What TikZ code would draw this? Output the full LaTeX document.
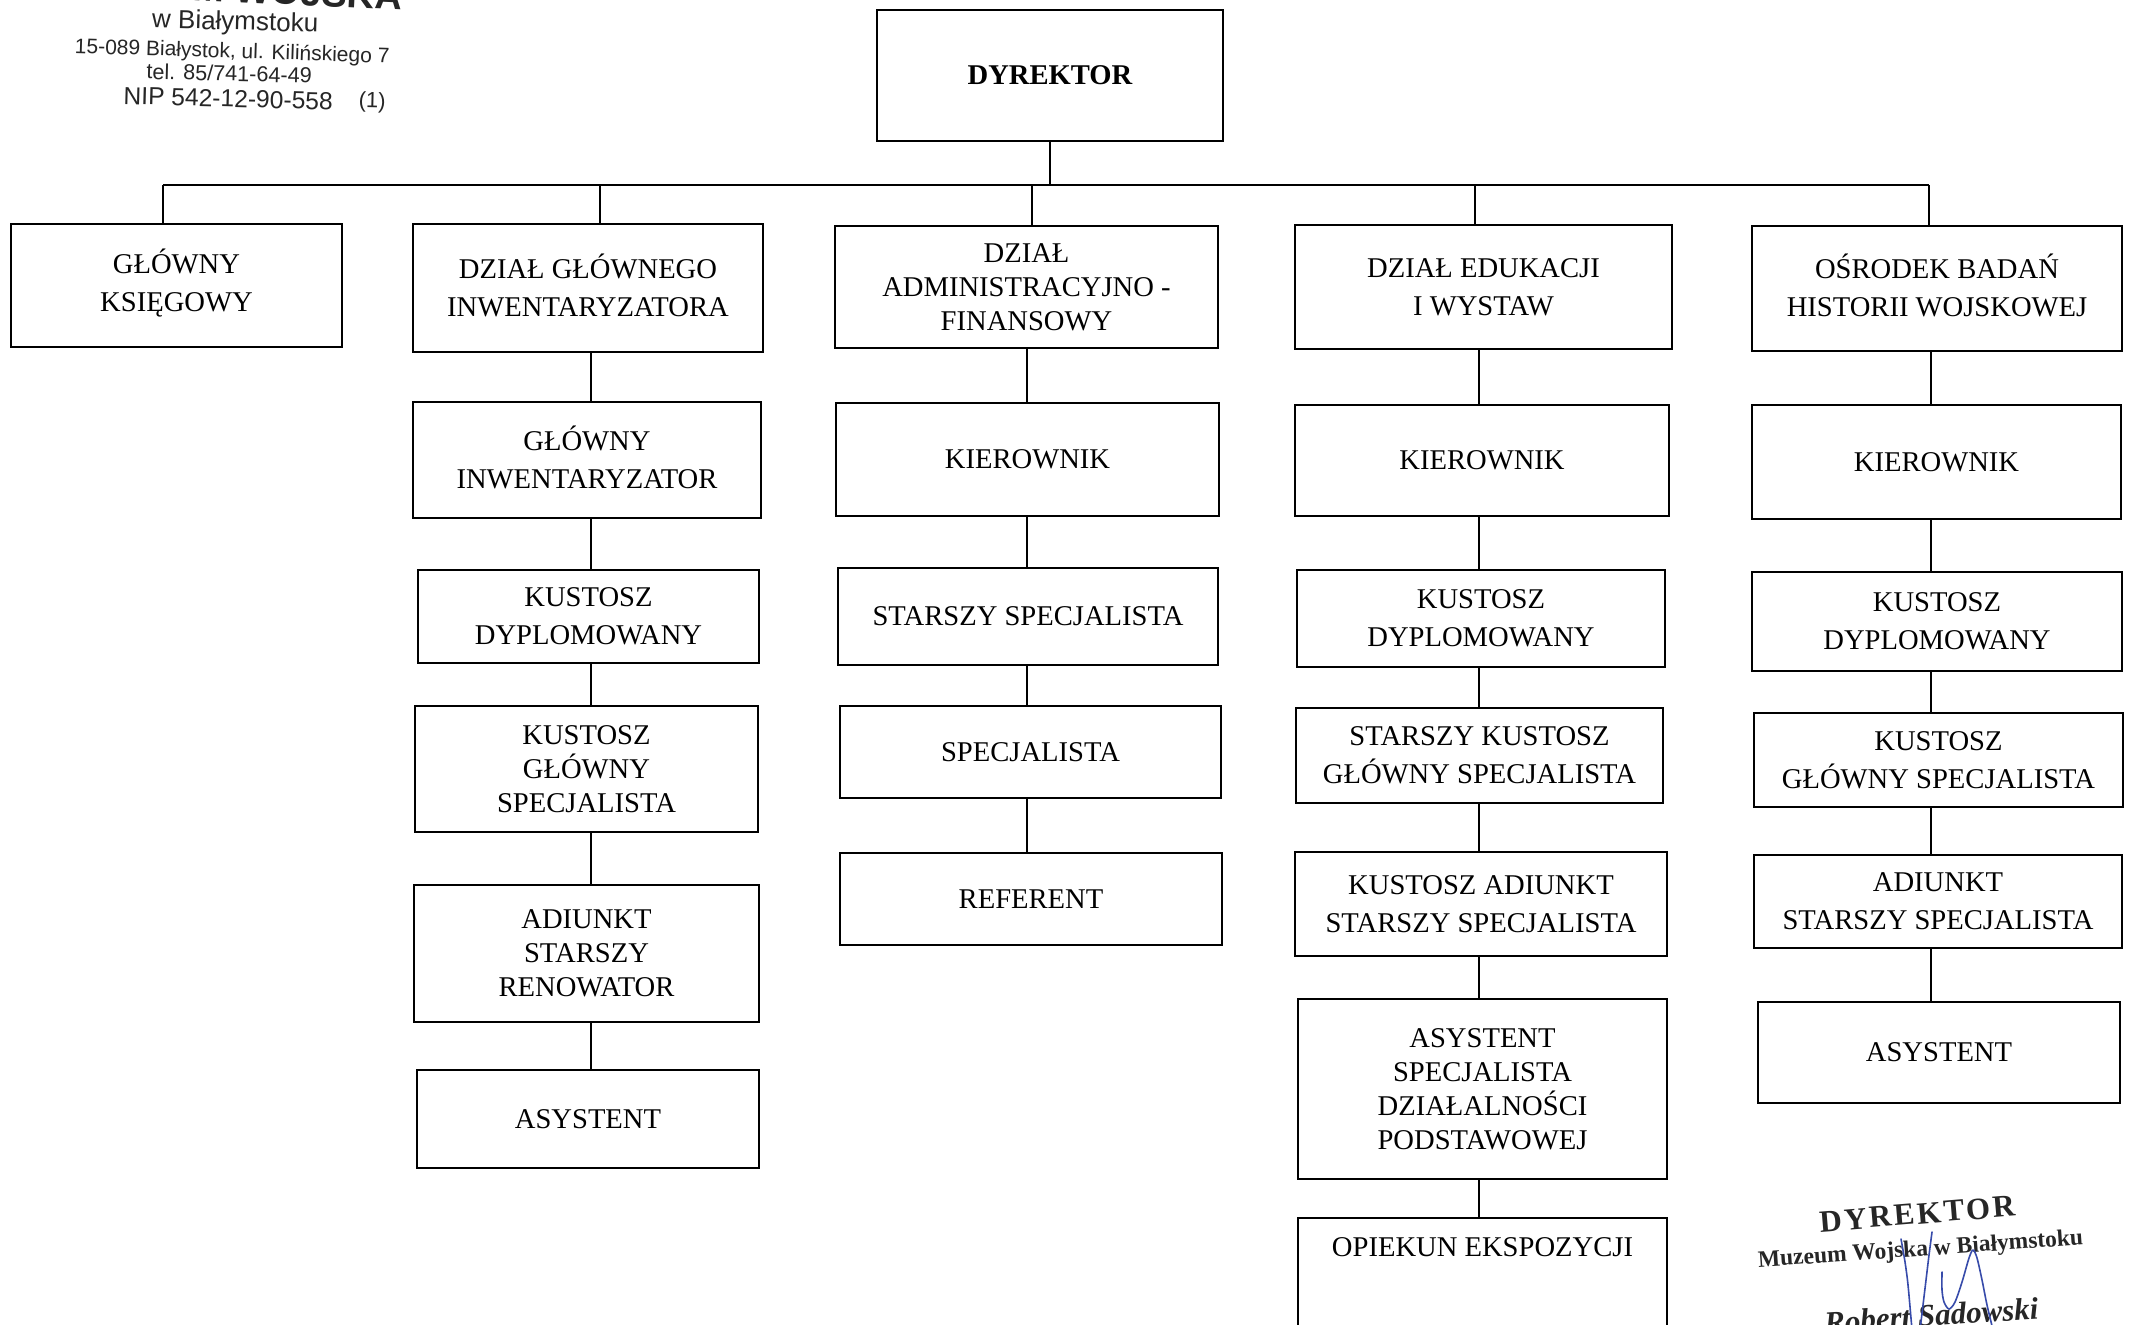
\documentclass[tikz,border=0pt]{standalone}
\usepackage{fontspec}
\setmainfont{Liberation Serif}
\newfontfamily\stampfont{Liberation Sans}
\newfontfamily\dirfont[LetterSpace=8]{Liberation Serif}
\definecolor{sigblue}{RGB}{55,75,170}
\tikzset{
  orgbox/.style={draw, line width=1.1pt, rectangle, inner sep=0pt, align=center,
    font=\fontsize{14.3}{19}\selectfont},
  tight/.style={font=\fontsize{14.3}{17}\selectfont},
  link/.style={line width=0.65pt},
  stamptext/.style={inner sep=0pt, anchor=base, text=black!85},
  sigline/.style={sigblue, line width=0.8pt, line cap=round, line join=round}
}
\newcommand\placebox[7][]{%
  \node[orgbox,#1, minimum width={(#5-#3)*0.5pt}, minimum height={(#6-#4)*0.5pt}]
    (#2) at ({(#3+#5)/2},{(#4+#6)/2}) {#7};}
\begin{document}
\begin{tikzpicture}[x=0.5pt, y=-0.5pt]
\fill[white] (0,0) rectangle (2129,1324);
\useasboundingbox (0,0) rectangle (2129,1324);
\clip (0,0) rectangle (2129,1324);

% ---- director
\placebox[font=\bfseries\fontsize{14.3}{19}\selectfont]{dyr}{877}{10}{1223}{141}{DYREKTOR}

% ---- departments
\placebox{c1}{11}{224}{342}{347}{GŁ\smash{Ó}WNY\\KSIĘGOWY}
\placebox{c2}{413}{224}{763}{352}{DZIAŁ GŁ\smash{Ó}WNEGO\\INWENTARYZATORA}
\placebox[tight]{c3}{835}{226}{1218}{348}{DZIAŁ\\ADMINISTRACYJNO -\\FINANSOWY}
\placebox{c4}{1295}{225}{1672}{349}{DZIAŁ EDUKACJI\\I WYSTAW}
\placebox{c5}{1752}{226}{2122}{351}{O\smash{Ś}RODEK BADA\smash{Ń}\\HISTORII WOJSKOWEJ}

% ---- column 2
\placebox{c2a}{413}{402}{761}{518}{GŁ\smash{Ó}WNY\\INWENTARYZATOR}
\placebox{c2b}{418}{570}{759}{663}{KUSTOSZ\\DYPLOMOWANY}
\placebox[tight]{c2c}{415}{706}{758}{832}{KUSTOSZ\\GŁÓWNY\\SPECJALISTA}
\placebox[tight]{c2d}{414}{885}{759}{1022}{ADIUNKT\\STARSZY\\RENOWATOR}
\placebox{c2e}{417}{1070}{759}{1168}{ASYSTENT}

% ---- column 3
\placebox{c3a}{836}{403}{1219}{516}{KIEROWNIK}
\placebox{c3b}{838}{568}{1218}{665}{STARSZY SPECJALISTA}
\placebox{c3c}{840}{706}{1221}{798}{SPECJALISTA}
\placebox{c3d}{840}{853}{1222}{945}{REFERENT}

% ---- column 4
\placebox{c4a}{1295}{405}{1669}{516}{KIEROWNIK}
\placebox{c4b}{1297}{570}{1665}{667}{KUSTOSZ\\DYPLOMOWANY}
\placebox{c4c}{1296}{708}{1663}{803}{STARSZY KUSTOSZ\\GŁÓWNY SPECJALISTA}
\placebox{c4d}{1295}{852}{1667}{956}{KUSTOSZ ADIUNKT\\STARSZY SPECJALISTA}
\placebox[tight]{c4e}{1298}{999}{1667}{1179}{ASYSTENT\\SPECJALISTA\\DZIAŁALNOŚCI\\PODSTAWOWEJ}
\node[orgbox, minimum width={(1667-1298)*0.5pt}, text height=19pt, text depth=70pt, anchor=north]
  (c4f) at (1482.5,1217) {OPIEKUN EKSPOZYCJI};

% ---- column 5
\placebox{c5a}{1752}{405}{2121}{519}{KIEROWNIK}
\placebox{c5b}{1752}{572}{2122}{671}{KUSTOSZ\\DYPLOMOWANY}
\placebox{c5c}{1754}{713}{2123}{807}{KUSTOSZ\\GŁÓWNY SPECJALISTA}
\placebox{c5d}{1754}{855}{2122}{948}{ADIUNKT\\STARSZY SPECJALISTA}
\placebox{c5e}{1758}{1002}{2120}{1103}{ASYSTENT}

% ---- bus and drops
\coordinate (busL) at (163,185);
\coordinate (busR) at (1929,185);
\coordinate (d1) at (163,185);
\coordinate (d2) at (600,185);
\coordinate (d3) at (1032,185);
\coordinate (d4) at (1475,185);
\coordinate (d5) at (1929,185);
\draw[link] (busL) -- (busR);
\draw[link] (dyr.south) -- (dyr.south |- busL);
\draw[link] (d1) -- (d1 |- c1.north);
\draw[link] (d2) -- (d2 |- c2.north);
\draw[link] (d3) -- (d3 |- c3.north);
\draw[link] (d4) -- (d4 |- c4.north);
\draw[link] (d5) -- (d5 |- c5.north);

% ---- column connectors
\coordinate (k2) at (591,0);
\coordinate (k3) at (1027,0);
\coordinate (k4) at (1479,0);
\coordinate (k5) at (1931,0);
\foreach \a/\b in {c2/c2a,c2a/c2b,c2b/c2c,c2c/c2d,c2d/c2e}
  \draw[link] (k2 |- \a.south) -- (k2 |- \b.north);
\foreach \a/\b in {c3/c3a,c3a/c3b,c3b/c3c,c3c/c3d}
  \draw[link] (k3 |- \a.south) -- (k3 |- \b.north);
\foreach \a/\b in {c4/c4a,c4a/c4b,c4b/c4c,c4c/c4d,c4d/c4e,c4e/c4f}
  \draw[link] (k4 |- \a.south) -- (k4 |- \b.north);
\foreach \a/\b in {c5/c5a,c5a/c5b,c5b/c5c,c5c/c5d,c5d/c5e}
  \draw[link] (k5 |- \a.south) -- (k5 |- \b.north);

% ---- stamp, top left
\node[stamptext, anchor=base east, rotate=-2.7, font=\stampfont\bfseries\fontsize{19}{19}\selectfont]
  (st0) at (402,10) {MUZEUM WOJSKA};
\node[stamptext, rotate=-1.5, font=\stampfont\fontsize{13}{14}\selectfont]
  (st1) at (235,30) {w Białymstoku};
\node[stamptext, rotate=-1.8, font=\stampfont\fontsize{10.5}{12}\selectfont]
  (st2) at (232,58) {15-089 Białystok, ul. Kilińskiego 7};
\node[stamptext, rotate=-1.5, font=\stampfont\fontsize{10.8}{12}\selectfont]
  (st3) at (229,81) {tel. 85/741-64-49};
\node[stamptext, rotate=-1.5, font=\stampfont\fontsize{12.3}{13}\selectfont]
  (st4) at (228,107) {NIP 542-12-90-558};
\node[stamptext, rotate=-1.5, font=\stampfont\fontsize{11}{12}\selectfont]
  (st5) at (372,108) {(1)};

% ---- signature stamp, bottom right
\node[stamptext, rotate=4.7, font=\dirfont\bfseries\fontsize{15.5}{16}\selectfont]
  (sg1) at (1918,1224) {DYREKTOR};
\node[stamptext, rotate=4, font=\bfseries\fontsize{11.75}{12}\selectfont]
  (sg2) at (1921,1256) {Muzeum Wojska w Białymstoku};
\node[stamptext, rotate=4, font=\bfseries\itshape\fontsize{15.5}{16}\selectfont]
  (sg3) at (1932,1326) {Robert Sadowski};
\draw[sigline] plot[smooth] coordinates {(1901,1239) (1905,1262) (1908,1285) (1912,1330)};
\draw[sigline] plot[smooth] coordinates {(1932,1232) (1929,1255) (1926,1280) (1923,1305) (1920,1330)};
\draw[sigline] plot[smooth] coordinates {(1942,1272) (1942,1290) (1944,1302) (1949,1309) (1955,1302)
  (1962,1282) (1969,1258) (1973,1250) (1977,1258) (1982,1280) (1987,1305) (1993,1330)};
\end{tikzpicture}
\end{document}
